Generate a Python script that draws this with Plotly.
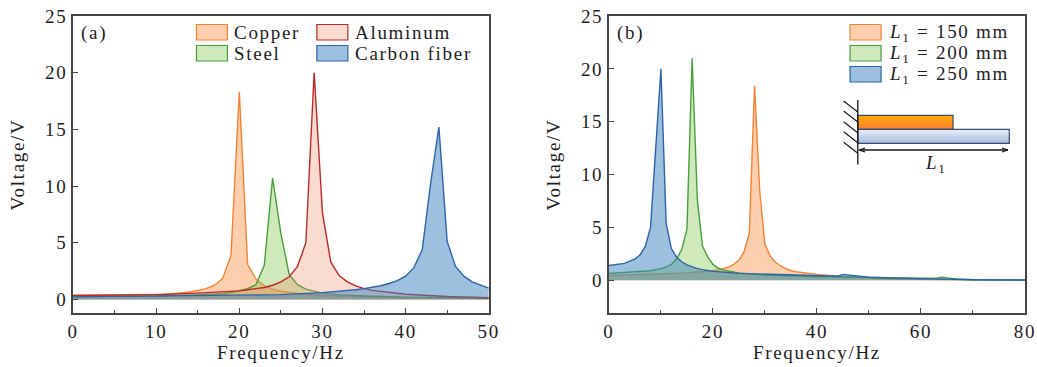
import plotly.graph_objects as go

# ---------- panel (a) ----------
a_labels = ["Copper", "Steel", "Aluminum", "Carbon fiber"]
copper_x = [0, 5, 10, 11, 12, 13, 14, 15, 16, 17, 18, 19, 20, 21, 22, 23, 24, 25, 26, 27, 28, 30, 35, 40, 50]
copper_y = [0.35, 0.37, 0.42, 0.45, 0.5, 0.55, 0.65, 0.8, 0.95, 1.25, 1.85, 3.9, 18.3, 3.1, 1.8, 1.2, 0.9, 0.72, 0.6, 0.52, 0.45, 0.35, 0.22, 0.15, 0.08]
steel_x = [0, 10, 15, 18, 19, 20, 21, 22, 23, 24, 25, 26, 27, 28, 29, 30, 32, 35, 40, 50]
steel_y = [0.25, 0.3, 0.4, 0.5, 0.6, 0.75, 0.95, 1.3, 3.0, 10.7, 5.8, 2.2, 1.3, 0.9, 0.7, 0.55, 0.4, 0.3, 0.2, 0.1]
alu_x = [0, 10, 15, 18, 19, 20, 21, 22, 23, 24, 25, 26, 27, 28, 29, 30, 31, 32, 33, 34, 35, 36, 38, 40, 45, 50]
alu_y = [0.35, 0.42, 0.55, 0.65, 0.7, 0.75, 0.85, 0.95, 1.05, 1.25, 1.55, 2.0, 2.9, 5.0, 20.0, 7.6, 3.3, 2.1, 1.55, 1.2, 0.95, 0.8, 0.6, 0.45, 0.25, 0.15]
carbon_x = [0, 10, 20, 25, 30, 31, 32, 33, 34, 35, 36, 37, 38, 39, 40, 41, 42, 43, 44, 45, 46, 47, 48, 49, 50]
carbon_y = [0.22, 0.28, 0.35, 0.42, 0.6, 0.65, 0.7, 0.78, 0.85, 0.95, 1.05, 1.2, 1.4, 1.65, 2.05, 2.8, 4.4, 10.2, 15.2, 5.1, 2.9, 2.05, 1.55, 1.25, 1.0]

# ---------- panel (b) ----------
b_labels = ["<i>L</i><sub>1</sub> = 150 mm", "<i>L</i><sub>1</sub> = 200 mm", "<i>L</i><sub>1</sub> = 250 mm"]
l150_x = [0, 5, 10, 15, 20, 22, 23, 24, 25, 26, 27, 28, 29, 30, 31, 32, 33, 34, 35, 36, 38, 40, 45, 50, 55, 60, 70, 80]
l150_y = [0.45, 0.5, 0.6, 0.7, 0.9, 1.1, 1.25, 1.5, 1.9, 2.7, 4.5, 18.4, 8.4, 3.4, 2.3, 1.7, 1.35, 1.1, 0.9, 0.8, 0.65, 0.55, 0.35, 0.2, 0.1, 0.08, 0.03, 0.02]
l200_x = [0, 5, 8, 10, 11, 12, 13, 14, 15, 16, 17, 18, 19, 20, 21, 22, 25, 30, 35, 40, 45, 50, 55, 60, 63, 64, 65, 67, 70, 80]
l200_y = [0.65, 0.8, 0.9, 1.1, 1.25, 1.5, 2.0, 2.9, 4.8, 21.0, 7.6, 3.2, 2.2, 1.5, 1.15, 0.95, 0.7, 0.5, 0.4, 0.35, 0.3, 0.25, 0.22, 0.2, 0.2, 0.28, 0.22, 0.12, 0.05, 0.02]
l250_x = [0, 2, 3, 4, 5, 6, 7, 8, 10, 11, 12, 13, 14, 15, 16, 17, 18, 20, 25, 30, 35, 40, 44, 45, 46, 48, 50, 55, 60, 65, 70, 80]
l250_y = [1.4, 1.5, 1.6, 1.8, 2.0, 2.4, 3.2, 5.0, 20.0, 5.4, 3.0, 2.2, 1.75, 1.45, 1.25, 1.1, 1.0, 0.85, 0.65, 0.58, 0.5, 0.42, 0.38, 0.55, 0.5, 0.38, 0.28, 0.2, 0.15, 0.1, 0.05, 0.02]

ORANGE = ("rgb(245,130,50)", "rgba(250,135,55,0.4)")
GREEN = ("rgb(70,160,60)", "rgba(137,200,82,0.4)")
RED = ("rgb(190,40,40)", "rgba(238,135,98,0.3)")
BLUE = ("rgb(45,100,170)", "rgba(59,129,189,0.5)")

W, H = 1037, 367
L, R, T, B = 72.5, 1025, 16, 313
FONT = "Liberation Serif"
FS = 19
INK = "rgb(30,30,30)"
FRAME = "rgb(70,70,70)"

def px(x):
    return (x - L) / (R - L)

def py(y):
    return (B - y) / (B - T)

fig = go.Figure()

def area(x, y, col, name, ax):
    fig.add_trace(go.Scatter(x=x, y=y, mode="lines", fill="tozeroy", name=name,
                             line=dict(color=col[0], width=1.4), fillcolor=col[1],
                             xaxis="x" + ax, yaxis="y" + ax, showlegend=False))

area(copper_x, copper_y, ORANGE, a_labels[0], "")
area(steel_x, steel_y, GREEN, a_labels[1], "")
area(alu_x, alu_y, RED, a_labels[2], "")
area(carbon_x, carbon_y, BLUE, a_labels[3], "")
area(l150_x, l150_y, ORANGE, "L1 = 150 mm", "2")
area(l200_x, l200_y, GREEN, "L1 = 200 mm", "2")
area(l250_x, l250_y, BLUE, "L1 = 250 mm", "2")

shapes, notes = [], []

def rect(x0, y0, x1, y1, line, fill, w=1.2):
    shapes.append(dict(type="rect", xref="paper", yref="paper", x0=px(x0), x1=px(x1), y0=py(y0), y1=py(y1),
                       line=dict(color=line, width=w), fillcolor=fill, layer="above"))

def seg(x0, y0, x1, y1, w=1.2, col="rgb(20,20,20)"):
    shapes.append(dict(type="line", xref="paper", yref="paper", x0=px(x0), x1=px(x1), y0=py(y0), y1=py(y1),
                       line=dict(color=col, width=w), layer="above"))

def text(x, y, s, anchor="left", size=FS):
    notes.append(dict(xref="paper", yref="paper", x=px(x), y=py(y), text=s, showarrow=False,
                      xanchor=anchor, yanchor="middle", font=dict(family=FONT, size=size, color=INK)))

# legends
for (x0, y0, col, lab) in [(196, 24.5, ORANGE, a_labels[0]), (196, 45.5, GREEN, a_labels[1]),
                           (316.5, 24.5, RED, a_labels[2]), (316.5, 45.5, BLUE, a_labels[3])]:
    rect(x0, y0, x0 + 31, y0 + 15.5, col[0], col[1])
    text(x0 + 36, y0 + 8, lab)
for (y0, col, lab) in zip([24.5, 45.5, 66.5], [ORANGE, GREEN, BLUE], b_labels):
    rect(850, y0, 881, y0 + 15.5, col[0], col[1])
    text(887, y0 + 8, lab)

text(79, 33, "(a)")
text(615, 33, "(b)")

# inset: clamped beam sketch (overlapping strips, so no seams show)
steps = 14
for i in range(steps):
    t = i / (steps - 1)
    y0 = 115.3 + i
    c1 = f"rgb({int(255 - 5 * t)},{int(172 - 45 * t)},{int(10 + 40 * t)})"
    rect(857.7, y0, 953, 129.3, c1, c1, 0)
for i in range(steps):
    t = i / (steps - 1)
    y0 = 129.3 + i
    c2 = f"rgb({int(232 - 62 * t)},{int(240 - 50 * t)},{int(248 - 23 * t)})"
    rect(857.7, y0, 1009.3, 143.3, c2, c2, 0)
rect(857.7, 115.3, 953, 129.3, "rgb(60,75,105)", "rgba(0,0,0,0)", 1.2)
rect(857.7, 129.3, 1009.3, 143.3, "rgb(60,75,105)", "rgba(0,0,0,0)", 1.2)
seg(857.7, 100, 857.7, 164.5, 1.3)
for y0 in [101, 111, 121.7, 131.7, 142.3]:
    seg(843.5, y0, 857.7, y0 + 11, 1.1)
seg(859, 150, 1008, 150, 1.3)
for xt, d in [(859, 1), (1008, -1)]:
    seg(xt, 150, xt + d * 6, 148, 1.3)
    seg(xt, 150, xt + d * 6, 152, 1.3)
text(923, 163.5, "<i>L</i><sub>1</sub>", "left")

axis = dict(showgrid=False, zeroline=False, showline=True, mirror=True, linecolor=FRAME, linewidth=1.6,
            ticks="inside", ticklen=5, tickwidth=1.2, tickcolor=FRAME,
            tickfont=dict(family=FONT, size=FS, color=INK))
xt = dict(text="Frequency/Hz", font=dict(family=FONT, size=FS, color=INK), standoff=5)
yt = dict(text="Voltage/V", font=dict(family=FONT, size=FS, color=INK), standoff=19)

fig.update_layout(
    width=W, height=H, plot_bgcolor="white", paper_bgcolor="white",
    margin=dict(l=L, r=W - R, t=T, b=H - B, autoexpand=False),
    xaxis=dict(axis, domain=[0, px(488.5)], range=[0, 50], tick0=0, dtick=10, title=xt,
               minor=dict(ticks="inside", dtick=5, ticklen=3, tickcolor=FRAME, tickwidth=1.1)),
    yaxis=dict(axis, range=[-1.2, 25], tick0=0, dtick=5, title=yt, anchor="x"),
    xaxis2=dict(axis, domain=[px(608.7), 1], range=[0, 80], tick0=0, dtick=20, title=xt, anchor="y2",
                minor=dict(ticks="inside", dtick=10, ticklen=3, tickcolor=FRAME, tickwidth=1.1)),
    yaxis2=dict(axis, range=[-3.1, 25], tick0=0, dtick=5, title=yt, anchor="x2"),
    shapes=shapes, annotations=notes,
)

post = """
document.body.style.margin = '0';
document.querySelectorAll('svg text').forEach(function (t) {
    var isNote = t.classList.contains('annotation-text');
    var before = isNote ? t.getBoundingClientRect().left : 0;
    t.style.letterSpacing = '1.7px';
    if (isNote) {
        var after = t.getBoundingClientRect().left;
        t.setAttribute('transform', 'translate(' + (before - after) + ',0)');
    }
});
"""
fig.write_html("out.html", post_script=post, config=dict(displayModeBar=False))
